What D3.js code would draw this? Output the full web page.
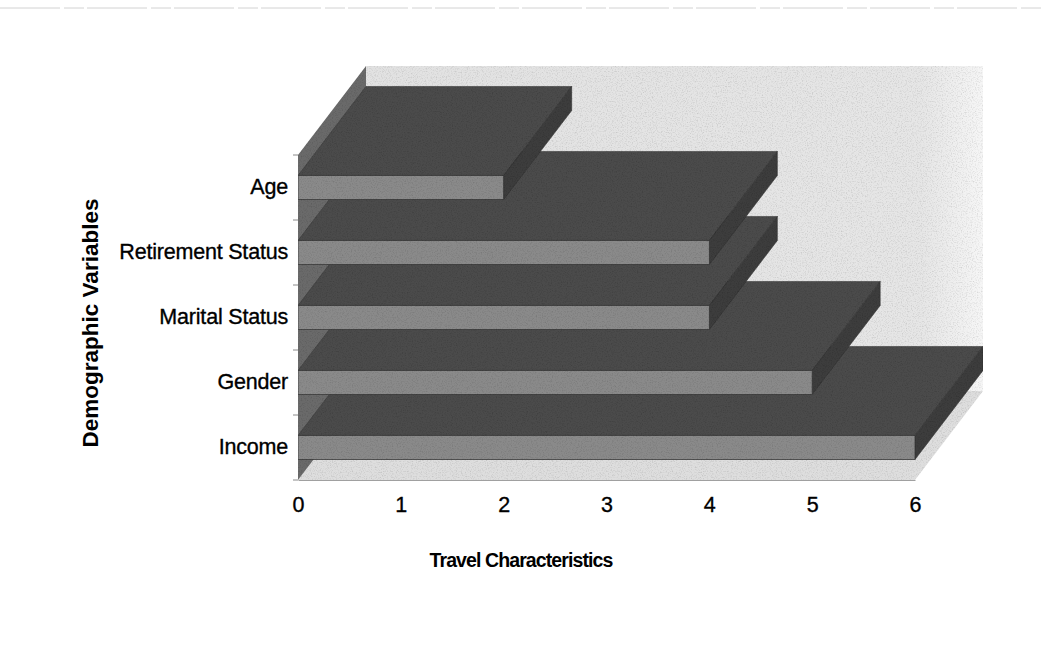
<!DOCTYPE html>
<html>
<head>
<meta charset="utf-8">
<script src="https://cdn.jsdelivr.net/npm/d3@7"></script>
<style>
  html, body { margin: 0; padding: 0; background: #ffffff; }
  svg { display: block; }
  text { font-family: "Liberation Sans", Arial, sans-serif; fill: #000; }
</style>
</head>
<body>
<svg id="chart" width="1042" height="671"></svg>
<script>
// Categories listed bottom to top, as stacked on the category axis
const categories = ["Income", "Gender", "Marital Status", "Retirement Status", "Age"];
const values = [6, 5, 4, 4, 2];
const xTicks = [0, 1, 2, 3, 4, 5, 6];
const xTitle = "Travel Characteristics";
const yTitle = "Demographic Variables";

const W = 1042, H = 671;
const svg = d3.select("#chart");

// Front plane of the 3-D plot and the depth offset of the back plane
const front = { left: 298, right: 915, top: 155, bottom: 480 };
const depth = { dx: 68, dy: -89 };

const x = d3.scaleLinear().domain([0, 6]).range([front.left, front.right]);
const y = d3.scaleBand().domain(categories).range([front.bottom, front.top]);
const barFrac = 0.37;

const defs = svg.append("defs");
const wallGrad = defs.append("linearGradient").attr("id", "wallGrad")
  .attr("x1", "0%").attr("x2", "100%").attr("y1", "0%").attr("y2", "0%");
wallGrad.append("stop").attr("offset", "0%").attr("stop-color", "#e2e2e2");
wallGrad.append("stop").attr("offset", "90%").attr("stop-color", "#e6e6e6");
wallGrad.append("stop").attr("offset", "100%").attr("stop-color", "#f6f6f6");

// fine grain for the shaded faces
const grain = defs.append("filter").attr("id", "grain")
  .attr("x", 0).attr("y", 0).attr("width", "100%").attr("height", "100%");
grain.append("feTurbulence").attr("type", "fractalNoise")
  .attr("baseFrequency", 0.8).attr("numOctaves", 2).attr("seed", 3).attr("result", "noise");
grain.append("feColorMatrix").attr("in", "noise").attr("type", "matrix")
  .attr("values", "0 0 0 0 0  0 0 0 0 0  0 0 0 0 0  0 0 0 -0.6 0.32").attr("result", "dots");
grain.append("feComposite").attr("in", "dots").attr("in2", "SourceGraphic").attr("operator", "in").attr("result", "clipped");
grain.append("feMerge").selectAll("feMergeNode").data(["SourceGraphic", "clipped"]).enter()
  .append("feMergeNode").attr("in", d => d);

// page rule along the top
svg.append("line").attr("x1", 0).attr("x2", W).attr("y1", 8).attr("y2", 8)
  .attr("stroke", "#d2d2d2").attr("stroke-width", 1).attr("stroke-dasharray", "60 4 20 3");

const pts = arr => arr.map(p => p.join(",")).join(" ");
const plot = svg.append("g").attr("filter", "url(#grain)");

const bx0 = front.left + depth.dx, by0 = front.top + depth.dy;
const bx1 = front.right + depth.dx, by1 = front.bottom + depth.dy;

// back wall
plot.append("polygon")
  .attr("points", pts([[bx0, by0], [bx1, by0], [bx1, by1], [bx0, by1]]))
  .attr("fill", "url(#wallGrad)");
// floor
plot.append("polygon")
  .attr("points", pts([[front.left, front.bottom], [front.right, front.bottom], [bx1, by1], [bx0, by1]]))
  .attr("fill", "#dedede");
// side wall
plot.append("polygon")
  .attr("points", pts([[front.left, front.top], [bx0, by0], [bx0, by1], [front.left, front.bottom]]))
  .attr("fill", "#6a6a6a");

// bars, from the bottom category upward so upper bars sit over lower tops
const bars = categories.map((c, i) => ({ c, v: values[i] }));
const barG = plot.selectAll("g.bar").data(bars).enter().append("g").attr("class", "bar");
barG.each(function (d) {
  const g = d3.select(this);
  const h = y.bandwidth() * barFrac;
  const y0 = y(d.c) + (y.bandwidth() - h) / 2, y1 = y0 + h;
  const xa = x(0), xb = x(d.v);
  g.append("polygon")
    .attr("points", pts([[xa, y0], [xb, y0], [xb + depth.dx, y0 + depth.dy], [xa + depth.dx, y0 + depth.dy]]))
    .attr("fill", "#4b4b4b").attr("stroke", "#3a3a3a").attr("stroke-width", 0.6);
  g.append("polygon")
    .attr("points", pts([[xb, y0], [xb + depth.dx, y0 + depth.dy], [xb + depth.dx, y1 + depth.dy], [xb, y1]]))
    .attr("fill", "#3d3d3d").attr("stroke", "#333").attr("stroke-width", 0.6);
  g.append("rect")
    .attr("x", xa).attr("y", y0).attr("width", xb - xa).attr("height", h)
    .attr("fill", "#8a8a8a").attr("stroke", "#3a3a3a").attr("stroke-width", 0.8);
});

// category axis with tick marks on band boundaries
const yAxis = svg.append("g").attr("transform", `translate(${front.left},0)`)
  .call(d3.axisLeft(y).tickSize(0).tickPadding(10));
yAxis.select(".domain").remove();
yAxis.selectAll("text").attr("font-size", 21.5).attr("font-family", "Liberation Sans, Arial, sans-serif")
  .attr("fill", "#000").attr("stroke", "#000").attr("stroke-width", 0.35).attr("letter-spacing", -0.2);
const bounds = categories.map(c => y(c)).concat([front.bottom]);
svg.selectAll("line.ytick").data(bounds).enter().append("line")
  .attr("class", "ytick")
  .attr("x1", front.left - 5).attr("x2", front.left)
  .attr("y1", d => d).attr("y2", d => d)
  .attr("stroke", "#8a8a8a").attr("stroke-width", 1);

// value axis
const xAxis = svg.append("g").attr("transform", `translate(0,${front.bottom})`)
  .call(d3.axisBottom(x).tickValues(xTicks).tickFormat(d3.format("d")).tickSize(0).tickPadding(17));
xAxis.select(".domain").attr("stroke", "#a0a0a0").attr("stroke-width", 1.2);
xAxis.selectAll("text").attr("font-size", 21.5).attr("font-family", "Liberation Sans, Arial, sans-serif")
  .attr("fill", "#000").attr("stroke", "#000").attr("stroke-width", 0.35);

// axis titles
svg.append("text")
  .attr("x", 521).attr("y", 567)
  .attr("text-anchor", "middle")
  .attr("font-size", 19.5).attr("font-weight", "bold").attr("letter-spacing", -0.9)
  .text(xTitle);
svg.append("text")
  .attr("transform", "translate(98,323) rotate(-90)")
  .attr("text-anchor", "middle")
  .attr("font-size", 22.5).attr("font-weight", "bold")
  .text(yTitle);
</script>
</body>
</html>
